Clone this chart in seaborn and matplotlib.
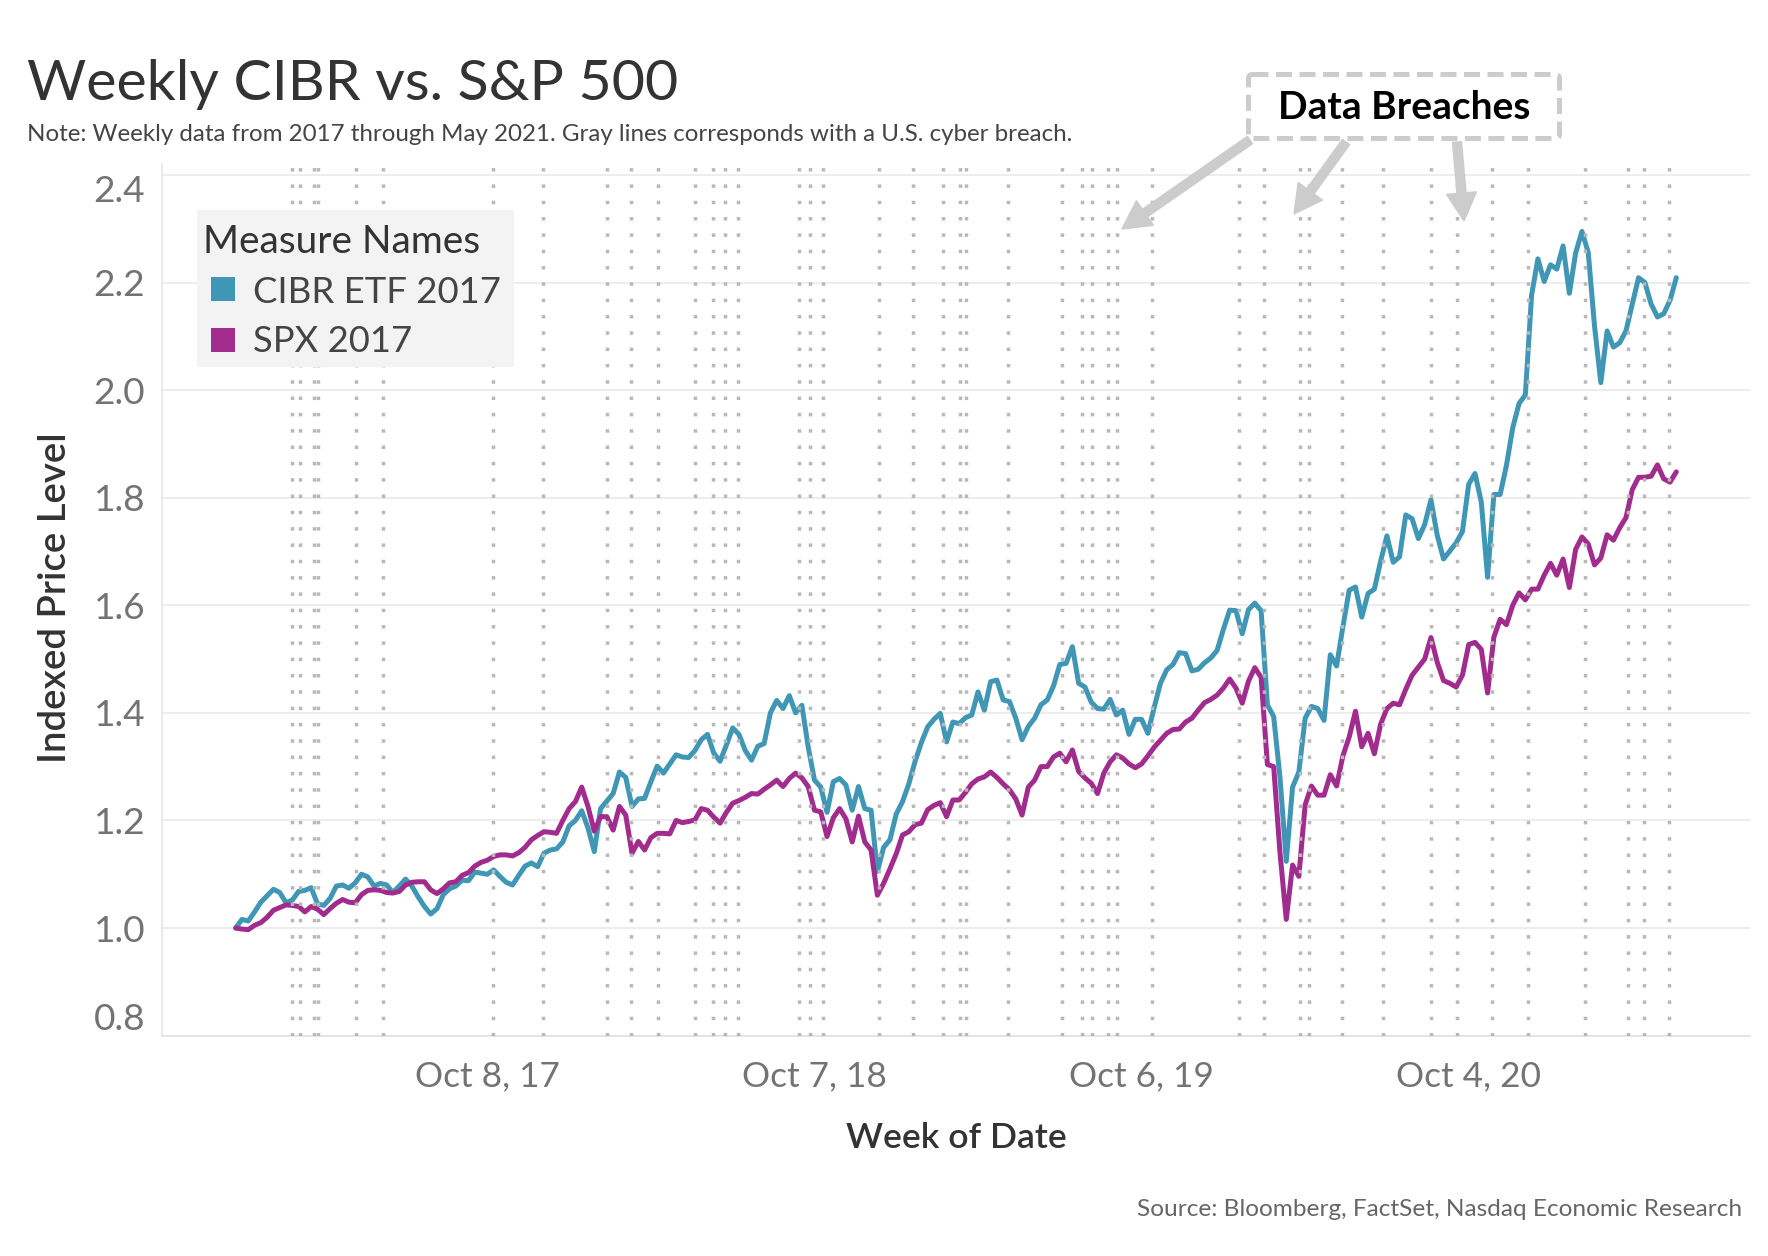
import numpy as np
import pandas as pd
import matplotlib
matplotlib.use("Agg")
import matplotlib.pyplot as plt
import matplotlib.dates as mdates
import seaborn as sns
from matplotlib.patches import Rectangle, FancyArrow, FancyBboxPatch
from matplotlib.transforms import Affine2D

# ---------------- data ----------------
start_week = "2017-01-01"

cibr = [
    1.000, 1.016, 1.013, 1.030, 1.048, 1.060, 1.072, 1.066, 1.047, 1.052,
    1.068, 1.070, 1.075, 1.045, 1.042, 1.055, 1.078, 1.080, 1.074, 1.084,
    1.100, 1.095, 1.078, 1.083, 1.080, 1.066, 1.078, 1.091, 1.078, 1.058,
    1.040, 1.026, 1.036, 1.062, 1.073, 1.078, 1.089, 1.088, 1.104, 1.102,
    1.100, 1.108, 1.096, 1.085, 1.080, 1.098, 1.115, 1.121, 1.114, 1.139,
    1.145, 1.147, 1.160, 1.190, 1.200, 1.218, 1.186, 1.142, 1.222, 1.236,
    1.250, 1.290, 1.280, 1.226, 1.240, 1.241, 1.272, 1.301, 1.288, 1.305,
    1.322, 1.318, 1.317, 1.330, 1.350, 1.360, 1.325, 1.310, 1.340, 1.372,
    1.360, 1.330, 1.312, 1.338, 1.343, 1.400, 1.423, 1.408, 1.432, 1.400,
    1.414, 1.337, 1.275, 1.262, 1.215, 1.272, 1.278, 1.266, 1.219, 1.263,
    1.222, 1.219, 1.105, 1.150, 1.164, 1.212, 1.235, 1.268, 1.310, 1.345,
    1.374, 1.388, 1.399, 1.346, 1.383, 1.380, 1.391, 1.396, 1.439, 1.405,
    1.458, 1.461, 1.424, 1.421, 1.390, 1.350, 1.375, 1.390, 1.415, 1.424,
    1.450, 1.490, 1.492, 1.523, 1.455, 1.448, 1.420, 1.408, 1.407, 1.425,
    1.396, 1.405, 1.360, 1.388, 1.388, 1.362, 1.410, 1.455, 1.480, 1.490,
    1.512, 1.510, 1.478, 1.481, 1.493, 1.502, 1.516, 1.555, 1.591, 1.590,
    1.547, 1.592, 1.604, 1.590, 1.415, 1.393, 1.280, 1.124, 1.262, 1.290,
    1.390, 1.412, 1.408, 1.386, 1.508, 1.487, 1.560, 1.628, 1.634, 1.578,
    1.622, 1.630, 1.682, 1.729, 1.680, 1.690, 1.768, 1.761, 1.724, 1.750,
    1.796, 1.730, 1.686, 1.701, 1.716, 1.737, 1.825, 1.845, 1.792, 1.652,
    1.806, 1.806, 1.860, 1.930, 1.975, 1.991, 2.177, 2.244, 2.202, 2.233,
    2.225, 2.268, 2.180, 2.255, 2.295, 2.256, 2.119, 2.014, 2.110, 2.080,
    2.088, 2.110, 2.160, 2.209, 2.200, 2.160, 2.136, 2.142, 2.167, 2.209,
]

spx = [
    1.000, 0.998, 0.997, 1.005, 1.010, 1.020, 1.033, 1.038, 1.043, 1.042,
    1.040, 1.030, 1.040, 1.035, 1.025, 1.036, 1.046, 1.053, 1.048, 1.047,
    1.062, 1.070, 1.071, 1.070, 1.066, 1.065, 1.068, 1.080, 1.085, 1.086,
    1.086, 1.071, 1.064, 1.073, 1.084, 1.086, 1.098, 1.103, 1.115, 1.122,
    1.126, 1.133, 1.136, 1.136, 1.134, 1.140, 1.150, 1.164, 1.172, 1.179,
    1.178, 1.176, 1.200, 1.222, 1.235, 1.262, 1.226, 1.180, 1.207, 1.207,
    1.182, 1.226, 1.210, 1.139, 1.161, 1.145, 1.168, 1.176, 1.176, 1.175,
    1.200, 1.196, 1.198, 1.201, 1.222, 1.219, 1.206, 1.195, 1.215, 1.232,
    1.237, 1.243, 1.250, 1.249, 1.258, 1.266, 1.275, 1.263, 1.278, 1.288,
    1.279, 1.263, 1.219, 1.216, 1.170, 1.205, 1.222, 1.203, 1.160, 1.208,
    1.160, 1.145, 1.061, 1.083, 1.110, 1.138, 1.173, 1.179, 1.192, 1.195,
    1.220, 1.228, 1.233, 1.207, 1.238, 1.238, 1.252, 1.268, 1.277, 1.281,
    1.290, 1.280, 1.268, 1.257, 1.240, 1.210, 1.262, 1.275, 1.300, 1.300,
    1.318, 1.325, 1.309, 1.331, 1.291, 1.279, 1.269, 1.250, 1.288, 1.309,
    1.322, 1.316, 1.305, 1.298, 1.305, 1.320, 1.336, 1.349, 1.362, 1.369,
    1.370, 1.383, 1.390, 1.405, 1.419, 1.425, 1.433, 1.446, 1.463, 1.446,
    1.418, 1.459, 1.484, 1.466, 1.304, 1.300, 1.140, 1.016, 1.117, 1.096,
    1.229, 1.264, 1.247, 1.247, 1.285, 1.264, 1.320, 1.355, 1.403, 1.337,
    1.362, 1.324, 1.379, 1.408, 1.418, 1.415, 1.444, 1.470, 1.485, 1.500,
    1.540, 1.494, 1.460, 1.455, 1.448, 1.470, 1.527, 1.531, 1.518, 1.437,
    1.541, 1.574, 1.564, 1.600, 1.623, 1.610, 1.630, 1.630, 1.656, 1.678,
    1.656, 1.686, 1.633, 1.704, 1.727, 1.714, 1.675, 1.688, 1.731, 1.721,
    1.744, 1.763, 1.815, 1.838, 1.838, 1.840, 1.861, 1.835, 1.829, 1.848,
]

series_names = ["CIBR ETF 2017", "SPX 2017"]

breach_dates = [
    "2017-03-05", "2017-03-13", "2017-03-29", "2017-04-03", "2017-05-15",
    "2017-06-14", "2017-10-14", "2017-12-09", "2018-02-18", "2018-03-17",
    "2018-04-16", "2018-05-27", "2018-06-16", "2018-06-29", "2018-07-14",
    "2018-09-20", "2018-10-02", "2018-10-16", "2018-12-18", "2019-01-25",
    "2019-02-27", "2019-03-18", "2019-03-25", "2019-05-10", "2019-07-09",
    "2019-08-01", "2019-08-12", "2019-08-30", "2019-09-09", "2019-10-18",
    "2020-01-22", "2020-02-19", "2020-03-30", "2020-04-09", "2020-05-16",
    "2020-07-01", "2020-08-23", "2020-09-21", "2020-10-30", "2020-12-09",
    "2021-02-10", "2021-03-30", "2021-04-17", "2021-05-15",
]

x_tick_dates = ["2017-10-08", "2018-10-07", "2019-10-06", "2020-10-04"]
x_tick_labels = ["Oct 8, 17", "Oct 7, 18", "Oct 6, 19", "Oct 4, 20"]
y_ticks = [0.8, 1.0, 1.2, 1.4, 1.6, 1.8, 2.0, 2.2, 2.4]
y_tick_labels = ["0.8", "1.0", "1.2", "1.4", "1.6", "1.8", "2.0", "2.2", "2.4"]

# ---------------- style ----------------
W, H = 1768, 1256
C_CIBR = "#3f96b5"
C_SPX = "#a12c8d"
GRAY_DOT = "#b8b8b8"

sns.set_theme(style="white")
plt.rcParams["font.family"] = ["Lato", "DejaVu Sans"]

fig = plt.figure(figsize=(W / 100, H / 100), dpi=100)
fig.patch.set_facecolor("white")

# pixel (top-left origin) -> figure transform
PX = Affine2D().scale(1 / W, -1 / H).translate(0, 1) + fig.transFigure


def fxy(x, y):
    return x / W, 1 - y / H


ax_left, ax_right, ax_top, ax_bottom = 162, 1750, 164, 1035.6
ax = fig.add_axes([ax_left / W, 1 - ax_bottom / H,
                   (ax_right - ax_left) / W, (ax_bottom - ax_top) / H])

n = len(cibr)
weeks = pd.date_range(start_week, periods=n, freq="7D")
df = pd.DataFrame({
    "Week of Date": np.concatenate([weeks, weeks]),
    "Indexed Price Level": np.array(cibr + spx),
    "Measure Names": [series_names[0]] * n + [series_names[1]] * n,
})

sns.lineplot(data=df, x="Week of Date", y="Indexed Price Level",
             hue="Measure Names", palette=[C_CIBR, C_SPX], linewidth=3.6,
             estimator=None, sort=False, legend=False, ax=ax,
             solid_joinstyle="round", solid_capstyle="round", zorder=2)

for d in breach_dates:
    ax.axvline(mdates.date2num(pd.Timestamp(d)), color=GRAY_DOT, lw=2.5,
               ls=(0, (1, 3.7)), zorder=3)

# axes limits (per pixel calibration)
ymax = 0.8 + (ax_bottom - ax_top) / 537.9
ax.set_ylim(0.8, ymax)
ax.set_xlim(mdates.date2num(pd.Timestamp("2016-10-11")),
            mdates.date2num(pd.Timestamp("2021-08-13")))

ax.set_yticks(y_ticks)
ax.set_yticklabels(y_tick_labels)
ax.set_xticks([mdates.date2num(pd.Timestamp(d)) for d in x_tick_dates])
ax.set_xticklabels(x_tick_labels)
ax.set_xlabel("")
ax.set_ylabel("")

ax.grid(axis="y", color="#ececec", lw=1.3)
ax.grid(axis="x", visible=False)
for s in ["top", "right"]:
    ax.spines[s].set_visible(False)
ax.spines["left"].set_color("#e8e8e8")
ax.spines["bottom"].set_color("#e3e3e3")
ax.spines["left"].set_linewidth(1.3)
ax.spines["bottom"].set_linewidth(1.3)

ax.tick_params(axis="y", length=8, width=1.2, color="#e3e3e3", pad=4,
               labelsize=26, labelcolor="#737373")
ax.tick_params(axis="x", length=10, width=1.2, color="#e3e3e3", pad=8,
               labelsize=26, labelcolor="#737373")

ylabs = ax.get_yticklabels()
ylabs[0].set_va("bottom")
ylabs[-1].set_va("top")

# ---------------- texts ----------------
def fit(t, target, vertical=False):
    r = fig.canvas.get_renderer()
    bb = t.get_window_extent(renderer=r)
    cur = bb.height if vertical else bb.width
    t.set_fontsize(t.get_fontsize() * target / cur)


title = fig.text(*fxy(27, 100), "Weekly CIBR vs. S&P 500", ha="left",
                 va="baseline", fontsize=44, color="#333333")
note = fig.text(*fxy(27, 141),
                "Note: Weekly data from 2017 through May 2021. Gray lines "
                "corresponds with a U.S. cyber breach.",
                ha="left", va="baseline", fontsize=15, color="#444444")
ylab = fig.text(*fxy(56, 598), "Indexed Price Level", rotation=90,
                ha="center", va="center", fontsize=22, color="#333333",
                fontweight="semibold")
xlab = fig.text(*fxy(956, 1148), "Week of Date", ha="center",
                va="baseline", fontsize=22, color="#333333",
                fontweight="semibold")
src = fig.text(*fxy(1742, 1216),
               "Source: Bloomberg, FactSet, Nasdaq Economic Research",
               ha="right", va="baseline", fontsize=15, color="#666666")

# legend (Tableau style)
fig.add_artist(Rectangle((197, 210), 317, 157, transform=PX,
                         facecolor="#f3f3f3", edgecolor="none", zorder=4))
leg_title = fig.text(*fxy(203, 253), "Measure Names", ha="left",
                     va="baseline", fontsize=22, color="#333333", zorder=5)
fig.add_artist(Rectangle((211, 277), 24, 24, transform=PX,
                         facecolor=C_CIBR, edgecolor="none", zorder=5))
fig.add_artist(Rectangle((211, 328), 24, 24, transform=PX,
                         facecolor=C_SPX, edgecolor="none", zorder=5))
leg1 = fig.text(*fxy(253, 303), series_names[0], ha="left", va="baseline",
                fontsize=24, color="#444444", zorder=5)
leg2 = fig.text(*fxy(253, 352), series_names[1], ha="left", va="baseline",
                fontsize=24, color="#444444", zorder=5)

# data breaches annotation
fig.add_artist(FancyBboxPatch((1248.5, 74.5), 311, 64,
                              boxstyle="round,pad=0,rounding_size=4",
                              transform=PX, facecolor="white",
                              edgecolor="#cccccc", lw=3.6,
                              ls=(0, (3.2, 1.5)), zorder=5))
db = fig.text(*fxy(1404, 119), "Data Breaches", ha="center", va="baseline",
              fontsize=24, color="black", fontweight="bold", zorder=6)
for (x0, y0, x1, y1) in [(1250, 140, 1122, 229), (1346, 142, 1294, 214),
                         (1457, 142, 1464, 221)]:
    fig.add_artist(FancyArrow(x0, y0, x1 - x0, y1 - y0, width=9,
                              head_width=30, head_length=28,
                              length_includes_head=True, transform=PX,
                              color="#cccccc", zorder=6))

fig.canvas.draw()
fit(title, 652)
fit(note, 1050)
fit(ylab, 329, vertical=True)
fit(xlab, 220)
fit(src, 606)
fit(leg_title, 277)
fit(leg1, 248)
fit(leg2, 159)
fit(db, 252)

# tick label sizes
r = fig.canvas.get_renderer()
xl = ax.get_xticklabels()[0]
xs = xl.get_fontsize() * 145 / xl.get_window_extent(renderer=r).width
yl = ax.get_yticklabels()[1]
ys = yl.get_fontsize() * 52 / yl.get_window_extent(renderer=r).width
for lab in ax.get_xticklabels():
    lab.set_fontsize(xs)
for lab in ax.get_yticklabels():
    lab.set_fontsize(ys)

fig.savefig("out.png", dpi=100, facecolor="white")
